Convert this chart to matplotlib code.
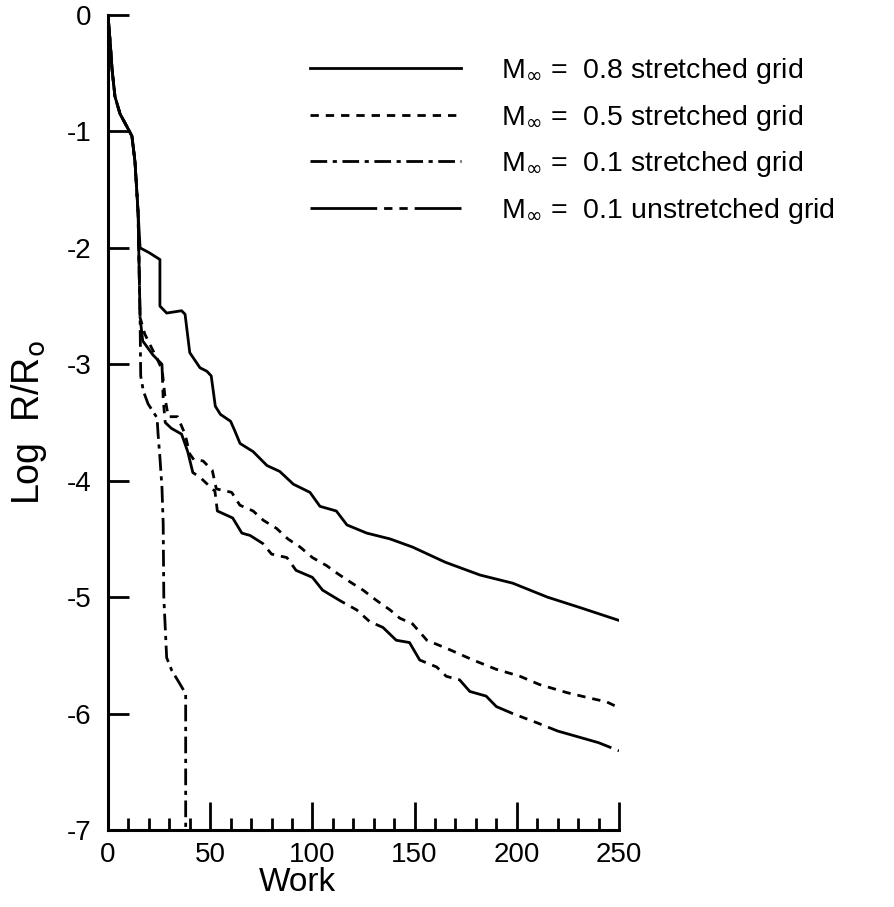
import matplotlib
matplotlib.use("Agg")
import matplotlib.pyplot as plt

plt.rcParams["font.family"] = ["Liberation Sans", "DejaVu Sans"]
plt.rcParams["axes.unicode_minus"] = False

# convergence histories: work vs log residual
work_08 = [0, 1, 2, 3.4, 5.9, 9.3, 11.7, 13.2, 14.7, 15.7, 20, 25.4, 25.4, 28.7,
           36, 37.7, 40, 45, 48.4, 50.5, 52.5, 55, 60, 62, 64.6, 71, 77.8, 84,
           90.7, 98.8, 103.7, 111.7, 116.9, 126.6, 138, 149, 165, 182, 198,
           215, 231, 250]
res_08 = [0, -0.22, -0.47, -0.7, -0.85, -0.96, -1.04, -1.26, -1.69, -2.0, -2.04,
          -2.1, -2.5, -2.56, -2.54, -2.57, -2.9, -3.03, -3.06, -3.1, -3.36,
          -3.43, -3.49, -3.57, -3.68, -3.75, -3.87, -3.92, -4.03, -4.1, -4.22,
          -4.26, -4.38, -4.45, -4.5, -4.57, -4.7, -4.81, -4.88, -5.0, -5.09,
          -5.2]

work_05 = [0, 1, 2, 3.4, 5.9, 9.3, 11.7, 13.2, 14.7, 15.7, 18, 20.5, 24, 26.5,
           28, 29.5, 34, 37.7, 40, 42, 46.5, 51, 53, 60.5, 64.5, 71, 76, 82.5,
           88, 94, 100, 107, 112.5, 118.5, 124.8, 131.5, 138, 142.7, 149, 156,
           167, 178.6, 190, 201.6, 211, 224.5, 234, 244, 250]
res_05 = [0, -0.22, -0.47, -0.7, -0.85, -0.96, -1.04, -1.26, -1.69, -2.6, -2.74,
          -2.83, -2.95, -3.05, -3.3, -3.45, -3.45, -3.6, -3.77, -3.82, -3.83,
          -3.91, -4.07, -4.1, -4.21, -4.26, -4.34, -4.41, -4.5, -4.57, -4.66,
          -4.73, -4.8, -4.87, -4.94, -5.03, -5.11, -5.18, -5.23, -5.37, -5.45,
          -5.54, -5.62, -5.68, -5.75, -5.82, -5.86, -5.9, -5.95]

work_01s = [0, 1, 2, 3.4, 5.9, 9.3, 11.7, 13.2, 14.7, 15.7, 16, 17.3, 19.6, 24,
            24.5, 25.4, 26.4, 27, 27.3, 28.7, 31.2, 35, 38, 38]
res_01s = [0, -0.22, -0.47, -0.7, -0.85, -0.96, -1.04, -1.26, -1.69, -2.6, -3.1,
           -3.23, -3.34, -3.46, -3.6, -3.8, -4.06, -4.37, -5.0, -5.52, -5.63,
           -5.74, -5.83, -7.0]

work_01u = [0, 1, 2, 3.4, 5.9, 9.3, 11.7, 13.2, 14.7, 15.7, 17, 22, 26.4, 27, 28,
            31, 36, 39, 41.5, 45, 48, 52.3, 53.5, 61, 65.5, 69.5, 75.8, 80,
            87.5, 92, 100, 105, 113.5, 121.7, 128, 134.5, 141, 147.5, 152.5,
            160.8, 165.5, 172, 177, 185, 190, 198, 210, 220, 230, 240, 250]
res_01u = [0, -0.22, -0.47, -0.7, -0.85, -0.96, -1.04, -1.26, -1.69, -2.6, -2.8,
           -2.92, -3.0, -3.3, -3.5, -3.55, -3.6, -3.75, -3.93, -3.97, -4.02,
           -4.09, -4.26, -4.32, -4.45, -4.47, -4.54, -4.63, -4.66, -4.77, -4.83,
           -4.94, -5.03, -5.11, -5.21, -5.26, -5.37, -5.39, -5.54, -5.6, -5.68,
           -5.71, -5.81, -5.85, -5.94, -6.0, -6.08, -6.15, -6.2, -6.25, -6.32]

fig = plt.figure(figsize=(8.94, 9.07), dpi=100)
ax = fig.add_axes([108 / 894, 1 - 830 / 907, 511 / 894, 815 / 907])

lw = 2.0
ax.plot(work_08, res_08, color="black", lw=lw, linestyle="-",
        label=r"M$_\infty$ =  0.8 stretched grid")
ax.plot(work_05, res_05, color="black", lw=lw, linestyle=(0, (3, 2.5)),
        label=r"M$_\infty$ =  0.5 stretched grid")
ax.plot(work_01s, res_01s, color="black", lw=lw, linestyle=(0, (6, 2, 1.5, 2)),
        label=r"M$_\infty$ =  0.1 stretched grid")
ax.plot(work_01u, res_01u, color="black", lw=lw,
        linestyle=(0, (24, 2.5, 3, 2.5, 3, 2.5)),
        label=r"M$_\infty$ =  0.1 unstretched grid")

ax.set_xlim(0, 250)
ax.set_ylim(-7, 0)

for side in ["top", "right"]:
    ax.spines[side].set_visible(False)
for side in ["left", "bottom"]:
    ax.spines[side].set_linewidth(2.2)

ax.set_xticks(range(0, 251, 50))
ax.set_xticks(range(0, 251, 10), minor=True)
ax.set_yticks(range(-7, 1))
ax.set_yticklabels([str(v) for v in range(-7, 1)])
ax.tick_params(axis="x", which="major", direction="in", length=20, width=2,
               labelsize=20, pad=9)
ax.tick_params(axis="x", which="minor", direction="in", length=9, width=2)
ax.tick_params(axis="y", direction="in", length=15, width=2, labelsize=20,
               pad=12)

ax.set_xlabel("Work", fontsize=24)
ax.xaxis.set_label_coords(0.37, -0.045)
ax.set_ylabel(r"Log  R/R$_{\rm o}$", fontsize=27)
ax.yaxis.set_label_coords(-0.115, 0.5)

fig.legend(loc="upper left", bbox_to_anchor=(299 / 894, 1 - 45 / 907),
           frameon=False, fontsize=20.5, handlelength=5.3, handletextpad=1.4,
           labelspacing=0.58, borderaxespad=0)

fig.savefig("out.png", dpi=100)
